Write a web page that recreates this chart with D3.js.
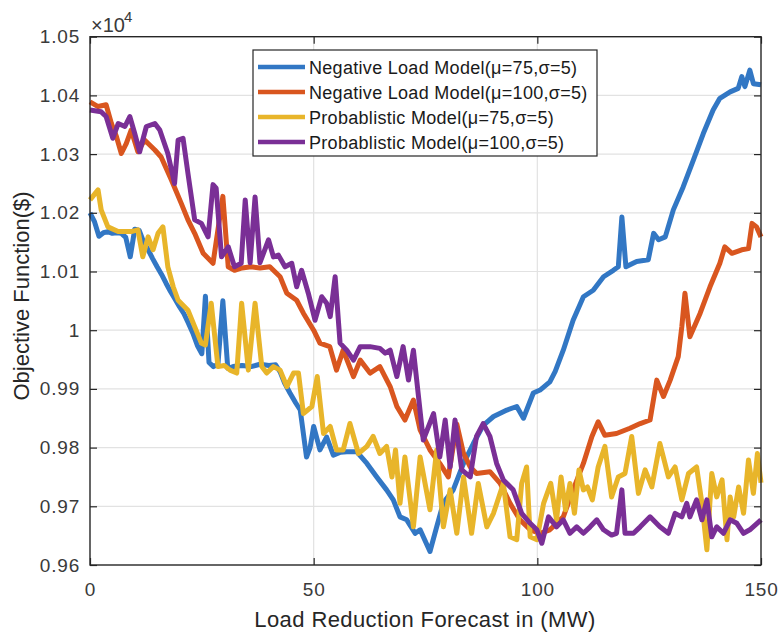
<!DOCTYPE html>
<html>
<head>
<meta charset="utf-8">
<script src="https://cdn.jsdelivr.net/npm/d3@7/dist/d3.min.js"></script>
<style>
  body { margin: 0; background: #fff; }
  text { font-family: "Liberation Sans", Arial, Helvetica, sans-serif; }
</style>
</head>
<body>
<div id="chart"></div>
<script>
// values: [load reduction (MW), objective ($)]
const negLoad75 = [
  [0,10200],[1,10185],[2,10160],[3,10166],[4,10168],[5,10165],[6,10166],[7,10165],[8,10158],[9,10125],
  [10,10172],[11,10170],[12,10150],[13,10137],[14,10122],[15,10108],[16,10095],[17,10080],[18,10066],[19,10053],
  [20,10040],[21,10028],[22,10012],[23,9995],[24,9974],[25,9960],[25.8,10058],[26.6,9945],[27.6,9938],[28.6,9942],
  [29.7,10050],[30.8,9935],[32,9938],[34,9940],[36,9938],[38,9942],[40,9940],[41.5,9941],[42.5,9929],[43.5,9910],
  [44.7,9893],[46,9876],[47,9864],[48.4,9784],[49.2,9800],[50,9836],[51.4,9796],[52.9,9818],[54.4,9787],[56,9792],
  [57.4,9793],[59.6,9793],[61.9,9773],[64.1,9750],[66.3,9728],[67.8,9711],[69.3,9682],[70.8,9677],[72.7,9654],[73.8,9660],
  [76,9623],[77.5,9665],[79,9706],[81.2,9728],[83.5,9773],[85.7,9807],[87.9,9838],[90.2,9853],[93.2,9864],[95.4,9870],
  [96.9,9850],[99.1,9893],[100.6,9898],[102.8,9912],[104,9930],[105.8,9966],[108,10017],[110.3,10057],[112.5,10068],[114.8,10091],
  [117,10102],[118.1,10108],[118.9,10193],[119.8,10108],[122.2,10117],[124.8,10120],[126,10165],[127.1,10154],[128.6,10159],[130.4,10205],
  [132.6,10244],[134.9,10290],[137.1,10335],[139.3,10375],[140.8,10395],[143.1,10406],[144.9,10412],[145.7,10432],[146.4,10415],[147.5,10443],
  [148.3,10420],[150,10418]
];

const negLoad100 = [
  [0,10389],[1.8,10381],[3.6,10384],[4.8,10352],[5.9,10330],[7,10301],[8.1,10318],[9.2,10341],[10.7,10304],[12.2,10324],
  [14.5,10307],[15.9,10295],[18.2,10256],[20.4,10216],[21.9,10188],[23.4,10165],[25.3,10131],[27.5,10114],[29.7,10228],[30.9,10108],
  [32.3,10102],[34,10106],[36,10108],[38,10106],[40.2,10108],[42.5,10091],[44,10063],[46.2,10051],[47.7,10029],[50,10000],
  [51.4,9978],[53.6,9972],[55.1,9932],[56.6,9966],[58.9,9921],[60.4,9949],[62.6,9927],[64.8,9938],[67.1,9904],[68.6,9870],
  [70.4,9847],[72.3,9881],[73.8,9830],[76,9796],[78.2,9773],[80.1,9750],[82,9840],[83.5,9790],[85,9767],[86.4,9756],
  [89.4,9759],[91.7,9739],[93.9,9705],[96.1,9677],[98.4,9660],[100.6,9654],[102.8,9660],[105.8,9682],[108,9728],[110.3,9773],
  [112.2,9819],[113.6,9844],[115.1,9821],[117.7,9824],[120.7,9833],[123,9841],[125.2,9847],[126.7,9915],[128.2,9887],[129.7,9915],
  [131.5,9955],[132.3,10006],[133,10063],[134.1,9989],[136.4,10029],[138.6,10074],[140.8,10114],[141.9,10142],[143.5,10131],[145.7,10137],
  [147.2,10139],[148,10182],[149,10176],[150,10159]
];

const prob75 = [
  [0,10222],[1.8,10239],[2.5,10205],[4,10176],[6.3,10168],[9.2,10168],[10.7,10171],[11.8,10125],[13,10159],[14.1,10137],
  [15.2,10165],[16.3,10176],[17.4,10108],[18.6,10074],[19.7,10051],[21.9,10034],[23.4,10006],[24.9,9978],[25.8,9975],[27.1,10046],
  [28.6,9938],[30,9940],[31.3,9932],[32.8,9927],[33.9,10046],[35.4,9932],[36.9,10046],[38.4,9938],[39.5,9927],[41,9938],
  [42.5,9932],[44,9904],[45.5,9927],[46.6,9927],[47.7,9858],[49.6,9870],[50.8,9921],[52.2,9824],[53.7,9836],[55.1,9796],
  [56.6,9796],[58.1,9841],[60,9790],[61.9,9802],[63.3,9819],[64.8,9790],[66.3,9802],[67.5,9750],[68.3,9796],[69.3,9705],
  [70.4,9784],[72.3,9665],[73.8,9784],[76,9694],[77.5,9796],[79,9665],[80.5,9728],[82,9654],[83.5,9750],[85.3,9654],
  [86.8,9739],[88.7,9665],[90.2,9688],[92.4,9739],[93.9,9648],[95.4,9643],[96.5,9739],[97.6,9767],[98.4,9648],[99.9,9643],
  [101.4,9705],[103,9739],[104.3,9677],[105.3,9750],[106.3,9694],[107.3,9739],[108.3,9688],[109.3,9762],[110.3,9728],[111.2,9733],
  [112.3,9711],[113.6,9767],[115.1,9802],[116.6,9716],[118.1,9750],[119.6,9756],[121.1,9819],[122.6,9722],[124.1,9762],[125.6,9733],
  [127.4,9807],[129.3,9750],[130.8,9767],[132.3,9711],[133.8,9756],[135.6,9767],[136.8,9705],[137.9,9626],[139,9756],[140.1,9716],
  [141.3,9745],[142.4,9643],[143.1,9716],[143.9,9682],[145,9733],[146.1,9688],[147.2,9779],[148.3,9722],[149.2,9790],[150,9740]
];

const prob100 = [
  [0,10375],[2.5,10372],[3.6,10364],[5.1,10327],[6.3,10352],[7.8,10347],[8.9,10364],[10,10335],[11.1,10304],[12.6,10347],
  [14.5,10352],[15.6,10341],[17.4,10301],[18.9,10250],[19.7,10324],[20.8,10327],[21.9,10267],[23.4,10188],[24.9,10182],[26.4,10159],
  [27.5,10248],[28.2,10242],[29.4,10125],[30.9,10142],[32.3,10108],[33.8,10114],[34.7,10222],[35.8,10115],[36.9,10227],[38,10115],
  [39.9,10154],[41,10125],[42.1,10128],[43.6,10108],[45.1,10114],[46.2,10074],[47.3,10102],[48.8,10063],[50.3,10017],[51.8,10057],
  [52.9,10046],[53.7,10023],[54.8,10091],[55.9,9978],[57.4,9966],[58.9,9949],[60.4,9972],[62.6,9972],[64.8,9969],[66,9961],
  [67.1,9966],[68.6,9921],[70,9972],[71.2,9915],[72.3,9966],[74.5,9813],[76.8,9858],[78.2,9784],[79.4,9847],[80.5,9767],
  [81.6,9847],[83.1,9762],[85,9750],[86.4,9819],[87.9,9841],[89.4,9819],[90.9,9773],[92.4,9745],[94.6,9728],[96.5,9688],
  [98.4,9671],[99.9,9660],[101,9637],[102.5,9682],[104.3,9665],[105.8,9677],[107.3,9654],[108.8,9665],[110.3,9654],[111.8,9665],
  [113.3,9677],[114.8,9660],[116.6,9651],[117.7,9654],[118.9,9728],[119.6,9654],[121.5,9654],[123,9665],[125.2,9682],[127.4,9665],
  [129.3,9654],[130.8,9688],[132.3,9682],[133.4,9705],[134.1,9682],[135.6,9711],[136.8,9677],[137.9,9711],[139,9648],[140.1,9665],
  [141.6,9654],[143.1,9677],[144.6,9671],[146.1,9654],[147.5,9660],[150,9677]
];

const seriesNames = [
  "Negative Load Model(\u03bc=75,\u03c3=5)",
  "Negative Load Model(\u03bc=100,\u03c3=5)",
  "Probablistic Model(\u03bc=75,\u03c3=5)",
  "Probablistic Model(\u03bc=100,\u03c3=5)"
];
const seriesColors = ["#3277c4", "#d9561f", "#e8b52a", "#7a2f96"];
const seriesData = [negLoad75, negLoad100, prob75, prob100];

const xTicks = [0, 50, 100, 150];
const yTicks = [9600, 9700, 9800, 9900, 10000, 10100, 10200, 10300, 10400, 10500];

const width = 779, height = 635;
const plot = { left: 90, right: 761, top: 36.7, bottom: 565 };

const svg = d3.select("#chart").append("svg")
  .attr("width", width)
  .attr("height", height);

const x = d3.scaleLinear().domain([0, 150]).range([plot.left, plot.right]);
const y = d3.scaleLinear().domain([9600, 10500]).range([plot.bottom, plot.top]);

// grid
svg.append("g").selectAll("line")
  .data(yTicks.slice(1, -1))
  .enter().append("line")
  .attr("x1", plot.left).attr("x2", plot.right)
  .attr("y1", d => y(d)).attr("y2", d => y(d))
  .attr("stroke", "#e2e2e2").attr("stroke-width", 1.2);
svg.append("g").selectAll("line")
  .data(xTicks.slice(1, -1))
  .enter().append("line")
  .attr("y1", plot.top).attr("y2", plot.bottom)
  .attr("x1", d => x(d)).attr("x2", d => x(d))
  .attr("stroke", "#e2e2e2").attr("stroke-width", 1.2);

// lines, drawn in MATLAB order so purple ends on top
const line = d3.line().x(d => x(d[0])).y(d => y(d[1]));
seriesData.forEach((s, i) => {
  svg.append("path")
    .datum(s)
    .attr("fill", "none")
    .attr("stroke", seriesColors[i])
    .attr("stroke-width", 5)
    .attr("stroke-linejoin", "round")
    .attr("d", line);
});

// axes with inward ticks
const tickFmt = d => String(+(d / 1e4).toFixed(2));
const styleAxis = g => {
  g.select(".domain").remove();
  g.selectAll(".tick line").attr("stroke", "#262626").attr("stroke-width", 1.2);
  g.selectAll(".tick text")
    .attr("fill", "#3a3a3a")
    .style("font-size", "19px")
    .style("letter-spacing", "0.8px");
};

svg.append("g")
  .attr("transform", `translate(${plot.left},0)`)
  .call(d3.axisLeft(y).tickValues(yTicks).tickFormat(tickFmt).tickSize(-7).tickPadding(10))
  .call(styleAxis);
svg.append("g")
  .attr("transform", `translate(${plot.right},0)`)
  .call(d3.axisRight(y).tickValues(yTicks).tickFormat("").tickSize(-7))
  .call(styleAxis);
svg.append("g")
  .attr("transform", `translate(0,${plot.bottom})`)
  .call(d3.axisBottom(x).tickValues(xTicks).tickSize(-7).tickPadding(18))
  .call(styleAxis);
svg.append("g")
  .attr("transform", `translate(0,${plot.top})`)
  .call(d3.axisTop(x).tickValues(xTicks).tickFormat("").tickSize(-7))
  .call(styleAxis);

// box
svg.append("rect")
  .attr("x", plot.left).attr("y", plot.top)
  .attr("width", plot.right - plot.left)
  .attr("height", plot.bottom - plot.top)
  .attr("fill", "none")
  .attr("stroke", "#262626")
  .attr("stroke-width", 1.4);

// exponent label
svg.append("text")
  .attr("x", 91).attr("y", 32)
  .attr("fill", "#3a3a3a")
  .style("font-size", "20px")
  .text("\u00d710");
svg.append("text")
  .attr("x", 124).attr("y", 22)
  .attr("fill", "#3a3a3a")
  .style("font-size", "15px")
  .text("4");

// axis titles
svg.append("text")
  .attr("x", 425).attr("y", 627)
  .attr("text-anchor", "middle")
  .attr("fill", "#262626")
  .style("font-size", "22px")
  .style("letter-spacing", "0.4px")
  .text("Load Reduction Forecast in (MW)");

svg.append("text")
  .attr("transform", "translate(29,296) rotate(-90)")
  .attr("text-anchor", "middle")
  .attr("fill", "#262626")
  .style("font-size", "22px")
  .text("Objective Function($)");

// legend
const legend = svg.append("g");
legend.append("rect")
  .attr("x", 253).attr("y", 50)
  .attr("width", 344).attr("height", 106)
  .attr("fill", "#fff")
  .attr("stroke", "#262626")
  .attr("stroke-width", 1.2);

const rowY = d3.scalePoint().domain(d3.range(seriesNames.length)).range([67, 142]);
seriesNames.forEach((name, i) => {
  legend.append("line")
    .attr("x1", 258).attr("x2", 305)
    .attr("y1", rowY(i)).attr("y2", rowY(i))
    .attr("stroke", seriesColors[i])
    .attr("stroke-width", 4.5);
  legend.append("text")
    .attr("x", 309).attr("y", rowY(i) + 6.5)
    .attr("fill", "#1a1a1a")
    .style("font-size", "18px")
    .style("letter-spacing", "0.3px")
    .text(name);
});
</script>
</body>
</html>
